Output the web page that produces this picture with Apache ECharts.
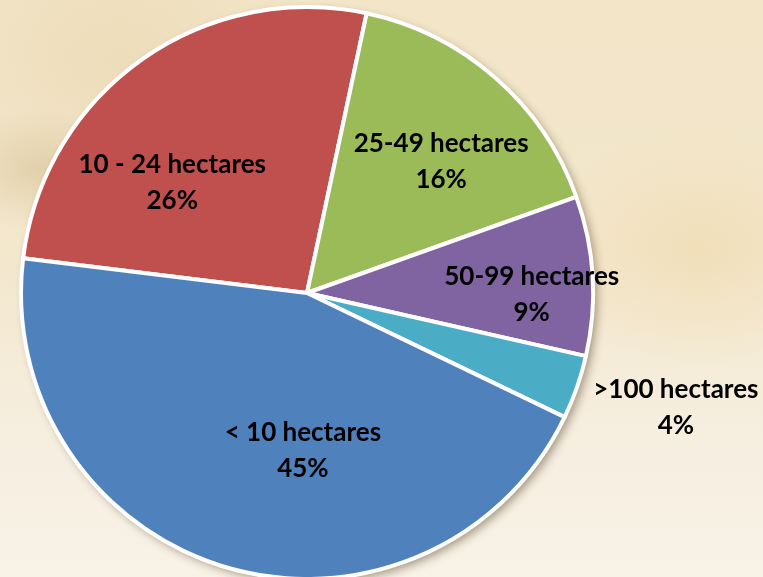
<!DOCTYPE html>
<html>
<head>
<meta charset="utf-8">
<script src="https://cdn.jsdelivr.net/npm/echarts@6/dist/echarts.min.js"></script>
<style>
  html, body { margin: 0; padding: 0; width: 763px; height: 577px; overflow: hidden; }
  body {
    background:
      radial-gradient(ellipse 90px 60px at 40px 170px, rgba(190,160,100,0.30), rgba(190,160,100,0) 100%),
      radial-gradient(ellipse 160px 120px at 700px 250px, rgba(235,205,140,0.30), rgba(235,205,140,0) 100%),
      radial-gradient(ellipse 200px 150px at 120px 60px, rgba(225,200,150,0.30), rgba(225,200,150,0) 100%),
      linear-gradient(180deg, #f2e5c8 0%, #f3e7cd 45%, #f6eedf 75%, #f8f2e7 100%);
  }
  #chart { width: 763px; height: 577px; }
</style>
</head>
<body>
<div id="chart"></div>
<script>
// Categories in clockwise drawing order
const categories = ['10 - 24 hectares', '25-49 hectares', '50-99 hectares', '>100 hectares', '< 10 hectares'];
// Share of farms (percent)
const values = [26.4, 16.2, 9.0, 3.6, 44.8];
const colors = ['#c0504d', '#9bbb59', '#8064a2', '#4bacc6', '#4f81bd'];
// label nudges relative to default inside position
const labelNudge = [[-50, 8], [38, -22], [79, 10], [231, 66], [37, 18]];

const chart = echarts.init(document.getElementById('chart'));
const center = [307, 293];
const radius = 286;

chart.setOption({
  backgroundColor: 'transparent',
  animation: false,
  series: [
    {
      type: 'pie',
      silent: true,
      z: 1,
      center: center,
      radius: radius,
      label: { show: false },
      labelLine: { show: false },
      itemStyle: {
        color: '#ffffff',
        shadowBlur: 10,
        shadowOffsetX: 4,
        shadowOffsetY: 4,
        shadowColor: 'rgba(60,40,10,0.45)'
      },
      data: [{ value: 1, name: 'bg' }]
    },
    {
      type: 'pie',
      z: 2,
      center: center,
      radius: radius,
      startAngle: 173,
      clockwise: true,
      percentPrecision: 0,
      avoidLabelOverlap: false,
      itemStyle: { borderColor: '#ffffff', borderWidth: 4 },
      label: {
        show: true,
        position: 'inside',
        formatter: '{b}\n{d}%',
        fontFamily: 'Lato',
        fontWeight: 'bold',
        fontSize: 26,
        lineHeight: 36,
        color: '#000000',
        align: 'center'
      },
      labelLine: { show: false },
      labelLayout: function (params) {
        const n = labelNudge[params.dataIndex];
        return { dx: n[0], dy: n[1] };
      },
      data: categories.map((c, i) => ({ name: c, value: values[i], itemStyle: { color: colors[i] } }))
    }
  ]
});
</script>
</body>
</html>
